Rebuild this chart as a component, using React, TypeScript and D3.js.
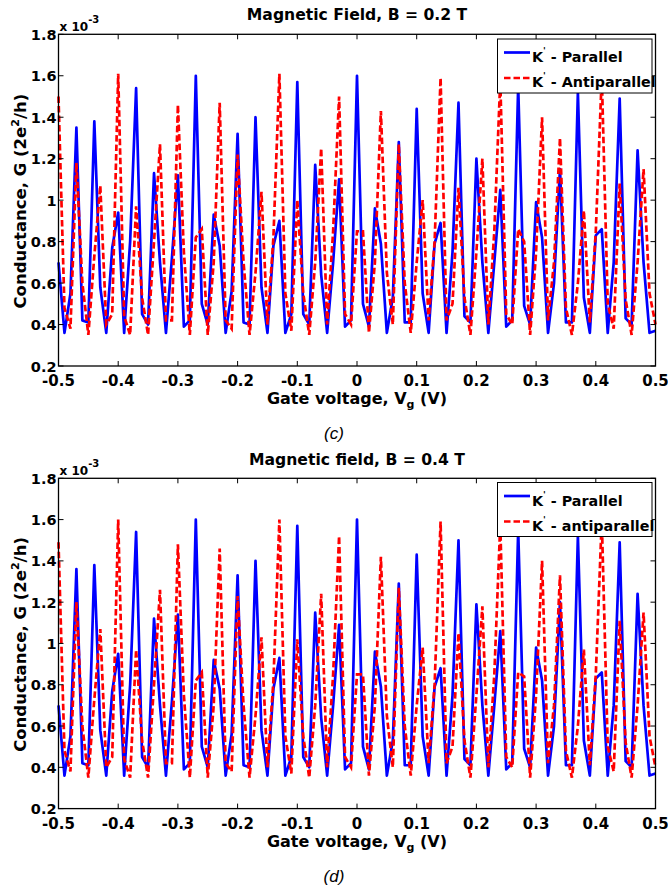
import React from "react";
import * as d3 from "d3";

const gateVoltage = d3.range(101).map((i) => +(-0.5 + i * 0.01).toFixed(2));

const parallelB02 = [
  0.70, 0.36, 0.55, 1.35, 0.42, 0.41, 1.38, 0.58, 0.36, 0.77,
  0.94, 0.36, 0.80, 1.54, 0.45, 0.40, 1.13, 0.70, 0.36, 0.72,
  1.12, 0.39, 0.42, 1.60, 0.50, 0.40, 0.93, 0.78, 0.36, 0.56,
  1.32, 0.41, 0.40, 1.40, 0.58, 0.36, 0.78, 0.90, 0.36, 0.45,
  1.57, 0.45, 0.40, 1.17, 0.64, 0.36, 0.70, 1.10, 0.39, 0.42,
  1.60, 0.50, 0.39, 0.96, 0.79, 0.36, 0.53, 1.28, 0.41, 0.41,
  1.44, 0.55, 0.36, 0.79, 0.89, 0.36, 0.75, 1.47, 0.44, 0.41,
  1.20, 0.70, 0.36, 0.70, 1.05, 0.39, 0.42, 1.55, 0.49, 0.40,
  0.99, 0.82, 0.36, 0.60, 1.15, 0.41, 0.41, 1.52, 0.53, 0.36,
  0.83, 0.86, 0.36, 0.70, 1.49, 0.43, 0.40, 1.24, 0.70, 0.36,
  0.37,
];

const antiparallelB02 = [
  1.50, 0.48, 0.38, 1.18, 0.60, 0.35, 0.73, 1.07, 0.40, 0.45,
  1.61, 0.44, 0.35, 0.97, 0.53, 0.35, 0.80, 1.27, 0.42, 0.42,
  1.46, 0.75, 0.35, 0.82, 0.86, 0.35, 0.70, 1.47, 0.42, 0.38,
  1.22, 0.70, 0.35, 0.65, 1.04, 0.40, 0.82, 1.61, 0.55, 0.37,
  1.00, 0.55, 0.35, 0.70, 1.25, 0.40, 0.85, 1.50, 0.45, 0.40,
  0.85, 0.85, 0.36, 0.70, 1.43, 0.65, 0.40, 1.27, 0.60, 0.36,
  0.70, 1.00, 0.42, 0.80, 1.59, 0.42, 0.50, 1.06, 0.53, 0.35,
  0.75, 1.20, 0.40, 0.85, 1.58, 0.45, 0.40, 0.86, 0.80, 0.35,
  0.75, 1.40, 0.42, 0.70, 1.30, 0.48, 0.35, 0.60, 0.95, 0.41,
  0.85, 1.60, 0.50, 0.38, 1.08, 0.52, 0.35, 0.70, 1.15, 0.55,
  0.40,
];

const parallelB04 = [
  0.70, 0.36, 0.55, 1.36, 0.42, 0.41, 1.38, 0.58, 0.36, 0.77,
  0.95, 0.36, 0.80, 1.54, 0.45, 0.40, 1.12, 0.70, 0.36, 0.72,
  1.14, 0.39, 0.42, 1.60, 0.50, 0.40, 0.92, 0.78, 0.36, 0.56,
  1.33, 0.41, 0.40, 1.40, 0.58, 0.36, 0.78, 0.93, 0.36, 0.45,
  1.57, 0.45, 0.40, 1.15, 0.64, 0.36, 0.70, 1.09, 0.39, 0.42,
  1.60, 0.50, 0.39, 0.96, 0.79, 0.36, 0.53, 1.29, 0.41, 0.41,
  1.43, 0.55, 0.36, 0.79, 0.88, 0.36, 0.75, 1.50, 0.44, 0.41,
  1.19, 0.70, 0.36, 0.70, 1.06, 0.39, 0.42, 1.55, 0.49, 0.40,
  0.98, 0.82, 0.36, 0.60, 1.20, 0.41, 0.41, 1.52, 0.53, 0.36,
  0.83, 0.86, 0.36, 0.70, 1.49, 0.43, 0.40, 1.24, 0.70, 0.36,
  0.37,
];

const antiparallelB04 = [
  1.49, 0.48, 0.38, 1.20, 0.60, 0.35, 0.73, 1.07, 0.40, 0.45,
  1.60, 0.44, 0.35, 0.97, 0.53, 0.35, 0.80, 1.26, 0.42, 0.42,
  1.48, 0.75, 0.35, 0.82, 0.86, 0.35, 0.70, 1.46, 0.42, 0.38,
  1.23, 0.70, 0.35, 0.65, 1.03, 0.40, 0.82, 1.60, 0.55, 0.37,
  1.02, 0.55, 0.35, 0.70, 1.24, 0.40, 0.85, 1.52, 0.45, 0.40,
  0.85, 0.85, 0.36, 0.70, 1.42, 0.65, 0.40, 1.27, 0.60, 0.36,
  0.70, 0.98, 0.42, 0.80, 1.59, 0.42, 0.50, 1.05, 0.53, 0.35,
  0.75, 1.18, 0.40, 0.85, 1.58, 0.45, 0.40, 0.86, 0.84, 0.35,
  0.75, 1.40, 0.42, 0.70, 1.33, 0.48, 0.35, 0.60, 0.97, 0.41,
  0.85, 1.60, 0.50, 0.38, 1.11, 0.52, 0.35, 0.70, 1.15, 0.55,
  0.40,
];

const xTicks = [-0.5, -0.4, -0.3, -0.2, -0.1, 0, 0.1, 0.2, 0.3, 0.4, 0.5];
const yTicks = [0.2, 0.4, 0.6, 0.8, 1.0, 1.2, 1.4, 1.6, 1.8];

const FONT = "'DejaVu Sans', 'Liberation Sans', sans-serif";
const LEFT = 58.5;
const RIGHT = 655.5;

type PanelProps = {
  top: number;
  bottom: number;
  titleY: number;
  title: string;
  para: number[];
  anti: number[];
  antiLabel: string;
  caption: string;
  legendTop: number;
};

function Panel({ top, bottom, titleY, title, para, anti, antiLabel, caption, legendTop }: PanelProps) {
  const x = d3.scaleLinear().domain([-0.5, 0.5]).range([LEFT, RIGHT]);
  const y = d3.scaleLinear().domain([0.2, 1.8]).range([bottom, top]);
  const line = d3
    .line<number>()
    .x((_, i) => x(gateVoltage[i]))
    .y((d) => y(d));
  const fmt = (v: number) => String(+v.toFixed(1));
  const tl = 5;
  const cx = (LEFT + RIGHT) / 2;
  return (
    <g fontFamily={FONT} fontWeight="bold" fill="#000">
      <text x={cx} y={titleY} textAnchor="middle" fontSize={15.6}>
        {title}
      </text>
      <text x={LEFT + 1} y={top - 3} fontSize={12}>
        x 10<tspan dy={-8} fontSize={10}>-3</tspan>
      </text>
      <path d={line(para) || ""} fill="none" stroke="#0000ff" strokeWidth={2.7} strokeLinejoin="round" />
      <path d={line(anti) || ""} fill="none" stroke="#ff0000" strokeWidth={2.7} strokeDasharray="6.5,3" />
      <rect x={LEFT} y={top} width={RIGHT - LEFT} height={bottom - top} fill="none" stroke="#000" strokeWidth={1.3} />
      {xTicks.map((t) => (
        <g key={"x" + t}>
          <line x1={x(t)} x2={x(t)} y1={bottom} y2={bottom - tl} stroke="#000" strokeWidth={1} />
          <line x1={x(t)} x2={x(t)} y1={top} y2={top + tl} stroke="#000" strokeWidth={1} />
          <text x={x(t)} y={bottom + 20} textAnchor="middle" fontSize={15}>
            {fmt(t)}
          </text>
        </g>
      ))}
      {yTicks.map((t) => (
        <g key={"y" + t}>
          <line x1={LEFT} x2={LEFT + tl} y1={y(t)} y2={y(t)} stroke="#000" strokeWidth={1} />
          <line x1={RIGHT} x2={RIGHT - tl} y1={y(t)} y2={y(t)} stroke="#000" strokeWidth={1} />
          <text x={LEFT - 2} y={y(t) + 5.5} textAnchor="end" fontSize={14.5}>
            {fmt(t)}
          </text>
        </g>
      ))}
      <text x={cx} y={bottom + 38} textAnchor="middle" fontSize={16}>
        Gate voltage, V<tspan dy={4} fontSize={11}>g</tspan>
        <tspan dy={-4}> (V)</tspan>
      </text>
      <text
        transform={`translate(26,${(top + bottom) / 2 + 1}) rotate(-90)`}
        textAnchor="middle"
        fontSize={16.5}
      >
        Conductance, G (2e<tspan dy={-7} fontSize={11}>2</tspan>
        <tspan dy={7}>/h)</tspan>
      </text>
      <text
        x={334}
        y={bottom + 73}
        textAnchor="middle"
        fontSize={17}
        fontStyle="italic"
        fontWeight="normal"
        fontFamily="'Liberation Sans', Arial, sans-serif"
      >
        {caption}
      </text>
      <g>
        <rect x={497.5} y={legendTop} width={154.5} height={54} fill="#fff" stroke="#000" strokeWidth={1} />
        <line x1={504} x2={530} y1={legendTop + 13.5} y2={legendTop + 13.5} stroke="#0000ff" strokeWidth={2.7} />
        <text x={532} y={legendTop + 23} fontSize={14.3}>
          K<tspan dy={-8} fontSize={9}>'</tspan>
          <tspan dy={8}> - Parallel</tspan>
        </text>
        <line
          x1={504}
          x2={530}
          y1={legendTop + 39}
          y2={legendTop + 39}
          stroke="#ff0000"
          strokeWidth={2.7}
          strokeDasharray="6.5,3"
        />
        <text x={532} y={legendTop + 48} fontSize={14.3}>
          K<tspan dy={-8} fontSize={9}>'</tspan>
          <tspan dy={8}> - {antiLabel}</tspan>
        </text>
      </g>
    </g>
  );
}

export default function App() {
  return (
    <svg
      width={668}
      height={892}
      style={{ position: "absolute", left: 0, top: 0, background: "#fff" }}
    >
      <rect x={0} y={0} width={668} height={892} fill="#fff" />
      <Panel
        top={34.3}
        bottom={366}
        titleY={20}
        title="Magnetic Field, B = 0.2 T"
        para={parallelB02}
        anti={antiparallelB02}
        antiLabel="Antiparallel"
        caption="(c)"
        legendTop={39}
      />
      <Panel
        top={478.3}
        bottom={808.6}
        titleY={465}
        title="Magnetic field, B = 0.4 T"
        para={parallelB04}
        anti={antiparallelB04}
        antiLabel="antiparallel"
        caption="(d)"
        legendTop={482.5}
      />
    </svg>
  );
}
